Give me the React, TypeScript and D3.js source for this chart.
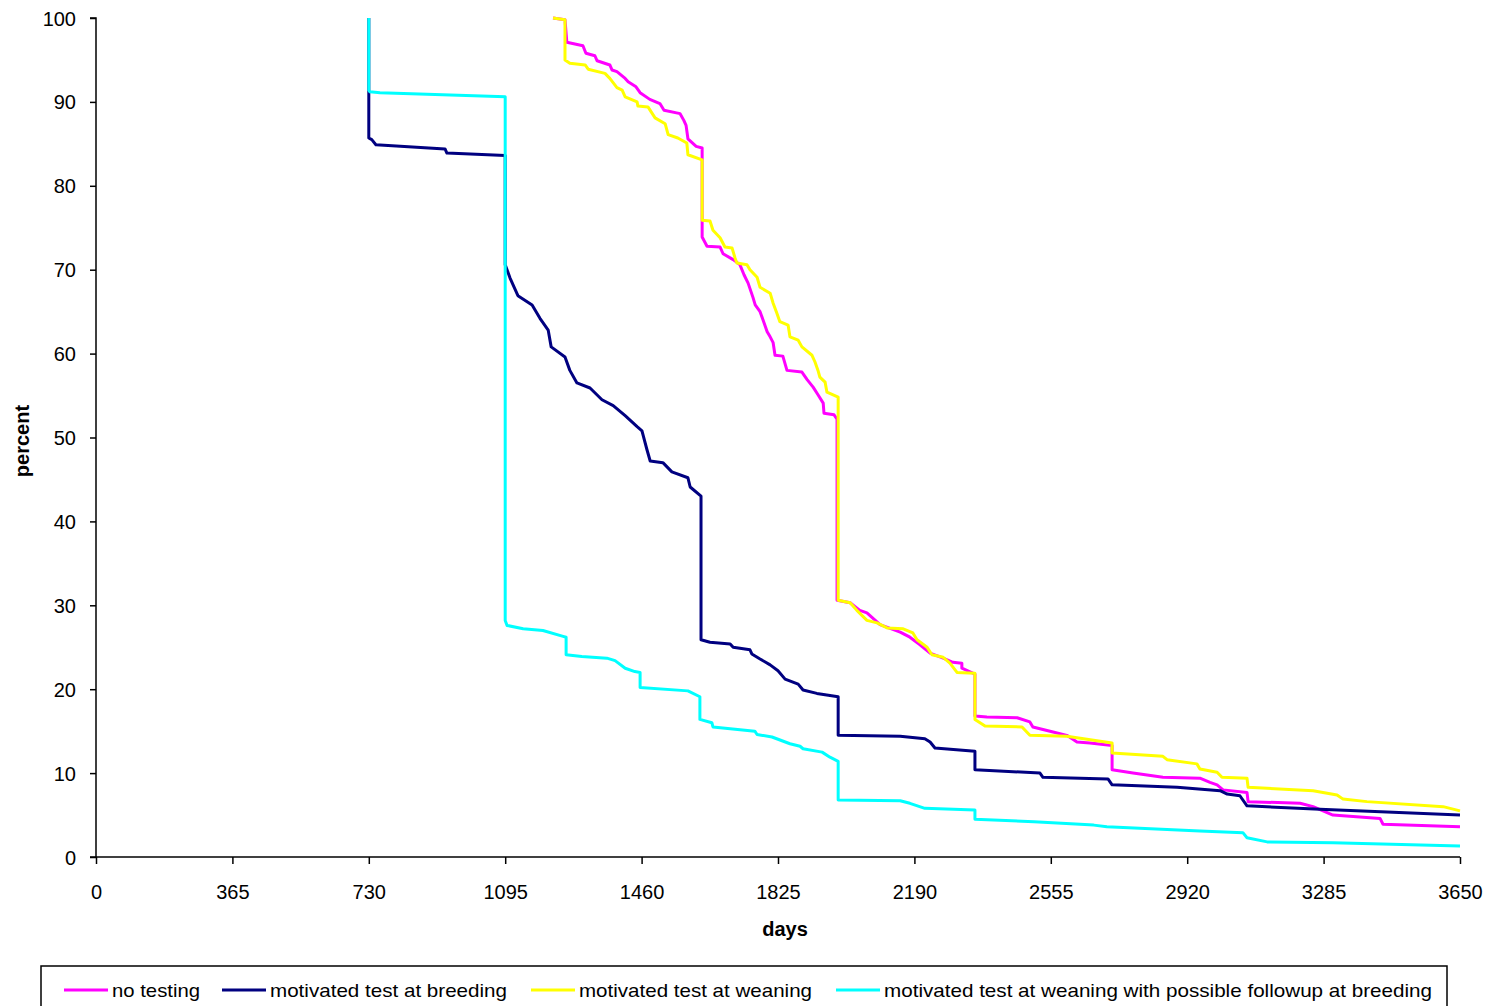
import React, { useEffect, useRef } from 'react';
import * as d3 from 'd3';

// days since start, percent remaining
const noTestDays = [1223, 1255, 1260, 1303, 1311, 1335, 1341, 1375, 1381, 1394, 1416, 1424, 1445, 1456, 1482, 1509, 1520, 1563, 1573, 1579, 1584, 1606, 1622, 1622, 1635, 1670, 1678, 1705, 1723, 1734, 1745, 1758, 1764, 1777, 1785, 1796, 1804, 1812, 1817, 1838, 1849, 1889, 1903, 1919, 1932, 1946, 1948, 1975, 1983, 1983, 2018, 2044, 2063, 2098, 2152, 2178, 2205, 2232, 2267, 2293, 2317, 2317, 2352, 2352, 2384, 2465, 2499, 2507, 2561, 2598, 2625, 2660, 2719, 2719, 2775, 2855, 2954, 2981, 3000, 3016, 3080, 3083, 3222, 3257, 3310, 3436, 3444, 3650];
const noTestPct = [100, 99.8, 97.1, 96.7, 95.8, 95.5, 94.9, 94.4, 93.8, 93.6, 92.8, 92.4, 91.8, 91.1, 90.3, 89.8, 89.0, 88.6, 87.8, 87.2, 85.6, 84.7, 84.5, 73.9, 72.8, 72.7, 71.9, 71.2, 70.6, 69.4, 68.4, 66.7, 65.8, 65.0, 64.0, 62.6, 62.0, 61.3, 59.8, 59.7, 58.0, 57.8, 56.9, 56.0, 55.1, 54.1, 52.9, 52.7, 52.2, 30.6, 30.3, 29.4, 29.1, 27.7, 26.8, 26.2, 25.3, 24.3, 23.7, 23.2, 23.1, 22.5, 21.8, 16.8, 16.7, 16.6, 16.1, 15.5, 14.9, 14.5, 13.7, 13.6, 13.3, 10.4, 10.0, 9.5, 9.4, 8.9, 8.6, 8.0, 7.7, 6.6, 6.4, 6.0, 5.0, 4.6, 3.9, 3.6];

const breedDays = [730, 730, 738, 749, 934, 939, 1095, 1095, 1108, 1129, 1167, 1188, 1210, 1218, 1255, 1268, 1287, 1322, 1354, 1384, 1416, 1448, 1461, 1474, 1483, 1517, 1541, 1584, 1590, 1619, 1619, 1643, 1697, 1705, 1750, 1755, 1777, 1804, 1825, 1844, 1879, 1892, 1929, 1986, 1986, 2152, 2218, 2232, 2245, 2352, 2352, 2526, 2534, 2708, 2719, 2893, 3008, 3027, 3061, 3080, 3275, 3650];
const breedPct = [100, 85.7, 85.5, 84.9, 84.4, 83.9, 83.6, 70.6, 69.0, 66.9, 65.8, 64.2, 62.8, 60.8, 59.6, 58.0, 56.5, 55.9, 54.5, 53.8, 52.6, 51.3, 50.8, 48.6, 47.2, 47.0, 45.9, 45.2, 44.1, 43.0, 25.9, 25.6, 25.4, 25.0, 24.7, 24.2, 23.6, 22.9, 22.2, 21.2, 20.6, 19.9, 19.5, 19.1, 14.5, 14.4, 14.1, 13.7, 13.0, 12.6, 10.4, 10.0, 9.5, 9.3, 8.6, 8.3, 7.9, 7.5, 7.3, 6.1, 5.7, 5.0];

const weanDays = [1223, 1255, 1255, 1268, 1309, 1317, 1362, 1375, 1394, 1408, 1416, 1448, 1450, 1477, 1496, 1523, 1531, 1557, 1581, 1584, 1622, 1622, 1643, 1651, 1670, 1683, 1702, 1710, 1715, 1742, 1750, 1769, 1777, 1804, 1812, 1822, 1830, 1852, 1857, 1879, 1889, 1916, 1924, 1932, 1937, 1951, 1956, 1986, 1986, 2018, 2036, 2063, 2090, 2117, 2160, 2186, 2197, 2224, 2237, 2267, 2285, 2304, 2352, 2352, 2379, 2478, 2499, 2598, 2719, 2719, 2855, 2866, 2946, 2954, 3000, 3013, 3080, 3083, 3257, 3321, 3337, 3401, 3605, 3650];
const weanPct = [100, 99.8, 95.0, 94.6, 94.4, 93.9, 93.4, 92.8, 91.7, 91.4, 90.6, 90.0, 89.5, 89.4, 88.1, 87.4, 86.1, 85.7, 85.1, 83.7, 83.1, 75.9, 75.8, 74.7, 73.8, 72.7, 72.6, 71.4, 70.8, 70.6, 70.0, 69.1, 67.9, 67.2, 66.0, 64.8, 63.8, 63.4, 62.0, 61.6, 60.8, 59.8, 59.0, 58.0, 57.2, 56.6, 55.4, 54.8, 30.6, 30.3, 29.4, 28.2, 27.9, 27.3, 27.2, 26.7, 25.9, 25.0, 24.1, 23.8, 23.1, 22.0, 21.9, 16.4, 15.6, 15.5, 14.5, 14.4, 13.6, 12.4, 12.0, 11.6, 11.1, 10.5, 10.1, 9.5, 9.4, 8.3, 7.9, 7.4, 6.9, 6.6, 6.0, 5.5];

const followDays = [730, 730, 733, 760, 1095, 1095, 1100, 1143, 1196, 1250, 1258, 1258, 1300, 1367, 1389, 1416, 1442, 1456, 1456, 1584, 1616, 1616, 1648, 1651, 1763, 1769, 1809, 1857, 1884, 1892, 1943, 1964, 1986, 1986, 2152, 2178, 2218, 2352, 2352, 2510, 2670, 2705, 2954, 3069, 3080, 3134, 3310, 3650];
const followPct = [100, 91.4, 91.2, 91.1, 90.6, 28.2, 27.6, 27.2, 27.0, 26.3, 26.2, 24.1, 23.9, 23.7, 23.4, 22.5, 22.1, 22.0, 20.2, 19.8, 19.1, 16.4, 16.0, 15.5, 15.0, 14.6, 14.3, 13.5, 13.2, 12.9, 12.5, 11.9, 11.4, 6.8, 6.7, 6.4, 5.8, 5.6, 4.5, 4.2, 3.8, 3.6, 3.1, 2.9, 2.3, 1.8, 1.7, 1.3];

const seriesNames = [
  'no testing',
  'motivated test at breeding',
  'motivated test at weaning',
  'motivated test at weaning with possible followup at breeding',
];
const seriesColors = ['#FF00FF', '#000080', '#FFFF00', '#00FFFF'];
const seriesDays = [noTestDays, breedDays, weanDays, followDays];
const seriesPct = [noTestPct, breedPct, weanPct, followPct];

const xTicks = [0, 365, 730, 1095, 1460, 1825, 2190, 2555, 2920, 3285, 3650];
const yTicks = [0, 10, 20, 30, 40, 50, 60, 70, 80, 90, 100];

const font = '"Liberation Sans", Arial, sans-serif';

const App: React.FC = () => {
  const svgRef = useRef<SVGSVGElement>(null);

  useEffect(() => {
    if (!svgRef.current) return;
    const width = 1489;
    const height = 1006;
    const svg = d3.select(svgRef.current).attr('width', width).attr('height', height);
    svg.selectAll('*').remove();

    const x = d3.scaleLinear().domain([0, 3650]).range([96, 1460]);
    const y = d3.scaleLinear().domain([0, 100]).range([857, 18]);

    svg.append('rect').attr('width', width).attr('height', height).attr('fill', '#fff');

    // series
    const line = d3.line<[number, number]>()
      .x(d => x(d[0]))
      .y(d => y(d[1]));

    seriesDays.forEach((days, i) => {
      const pts = days.map((d, j) => [d, seriesPct[i][j]] as [number, number]);
      svg.append('path')
        .attr('d', line(pts) || '')
        .attr('fill', 'none')
        .attr('stroke', seriesColors[i])
        .attr('stroke-width', 3)
        .attr('stroke-linejoin', 'round');
    });

    // y axis
    const yAxis = d3.axisLeft(y).tickValues(yTicks).tickSize(6).tickPadding(14);
    const yG = svg.append('g').attr('transform', `translate(${x(0)},0)`).call(yAxis);
    yG.select('.domain').attr('stroke', '#000').attr('stroke-width', 1.5).attr('d', `M-6,${y(100)}H0V${y(0)}`);
    yG.selectAll('line').attr('stroke', '#000').attr('stroke-width', 1.5);
    yG.selectAll('text')
      .attr('font-family', font)
      .attr('font-size', 20)
      .attr('fill', '#000')
      .attr('dy', '0.35em');

    // x axis
    const xAxis = d3.axisBottom(x).tickValues(xTicks).tickSize(7).tickPadding(21).tickFormat(d3.format('d'));
    const xG = svg.append('g').attr('transform', `translate(0,${y(0)})`).call(xAxis);
    xG.select('.domain').attr('stroke', '#000').attr('stroke-width', 1.5).attr('d', `M${x(0) - 6},0H${x(3650)}`);
    xG.selectAll('line').attr('stroke', '#000').attr('stroke-width', 1.5);
    xG.selectAll('text')
      .attr('font-family', font)
      .attr('font-size', 20)
      .attr('fill', '#000');

    // axis titles
    svg.append('text')
      .attr('x', 785)
      .attr('y', 936)
      .attr('text-anchor', 'middle')
      .attr('font-family', font)
      .attr('font-size', 20)
      .attr('font-weight', 'bold')
      .text('days');

    svg.append('text')
      .attr('transform', `translate(29,441) rotate(-90)`)
      .attr('text-anchor', 'middle')
      .attr('font-family', font)
      .attr('font-size', 20)
      .attr('font-weight', 'bold')
      .text('percent');

    // legend
    svg.append('rect')
      .attr('x', 41)
      .attr('y', 966)
      .attr('width', 1406)
      .attr('height', 60)
      .attr('fill', '#fff')
      .attr('stroke', '#000')
      .attr('stroke-width', 1.5);

    const legendX = [64, 222, 531, 836];
    const legendW = [88, 237, 233, 548];
    seriesNames.forEach((name, i) => {
      const g = svg.append('g').attr('transform', `translate(${legendX[i]},990)`);
      g.append('line')
        .attr('x1', 0).attr('x2', 44)
        .attr('y1', 0).attr('y2', 0)
        .attr('stroke', seriesColors[i])
        .attr('stroke-width', 3);
      g.append('text')
        .attr('x', 48)
        .attr('y', 7)
        .attr('font-family', font)
        .attr('font-size', 19)
        .attr('textLength', legendW[i])
        .attr('lengthAdjust', 'spacingAndGlyphs')
        .text(name);
    });
  }, []);

  return (
    <div style={{ position: 'absolute', left: 0, top: 0 }}>
      <svg ref={svgRef} style={{ display: 'block' }} />
    </div>
  );
};

export default App;
